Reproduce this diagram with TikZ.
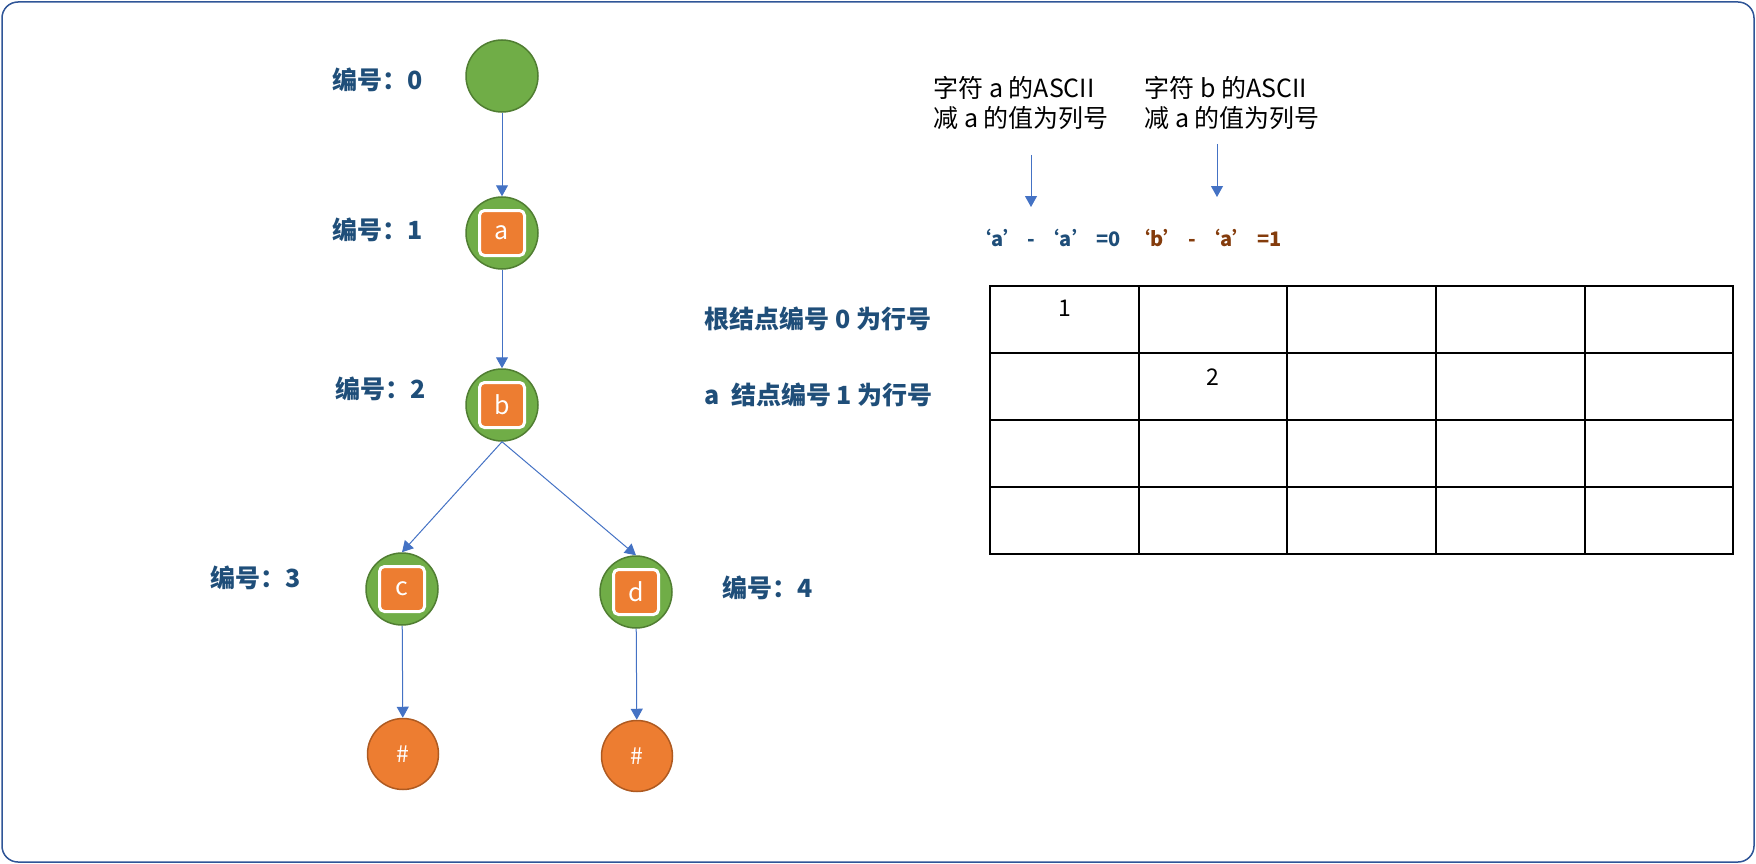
\documentclass[tikz,border=0pt]{standalone}
\usepackage{fontspec}
\setmainfont{Noto Sans CJK SC}
\newfontfamily\cjk{Noto Sans CJK SC}
\usetikzlibrary{arrows.meta}
\definecolor{gfill}{HTML}{70AD47}
\definecolor{gline}{HTML}{507E32}
\definecolor{ofill}{HTML}{ED7D31}
\definecolor{oline}{HTML}{AE5A21}
\definecolor{arr}{HTML}{4472C4}
\definecolor{lblue}{HTML}{1F4E79}
\definecolor{brown}{HTML}{843C0C}
\definecolor{frame}{HTML}{2F5597}
\tikzset{
  gnode/.style={circle,fill=gfill,draw=gline,line width=1.5pt,minimum size=72pt,inner sep=0pt},
  hnode/.style={circle,fill=ofill,draw=oline,line width=1.5pt,minimum size=71pt,inner sep=0pt,text=white,font=\fontsize{23}{24}\selectfont},
  sq/.style={rectangle,rounded corners=5pt,fill=ofill,draw=white,line width=3pt,minimum size=45pt,inner sep=0pt,text=white,font=\fontsize{25}{26}\selectfont},
  lbl/.style={text=lblue,font=\fontsize{25}{28}\selectfont\bfseries},
  note/.style={text=black,align=left,font=\fontsize{25}{30}\selectfont},
  conn/.style={draw=arr,line width=1pt,-{Triangle[width=12pt,length=11pt]}},
  cellnum/.style={font=\fontsize{23}{24}\selectfont}
}
\begin{document}
\begin{tikzpicture}[x=1pt,y=-1pt]
\useasboundingbox (0,0) rectangle (1756,864);
\draw[frame,line width=1.5pt,rounded corners=16pt] (2,2) rectangle (1754,862);
% tree nodes
\node[gnode] (r) at (502,76) {};
\node[gnode] (a) at (502,233) {};
\node[sq] (as) at (a) {a};
\node[gnode] (b) at (502,405) {};
\node[sq] (bs) at (b) {b};
\node[gnode] (c) at (402,589) {};
\node[sq] (cs) at (c) {c};
\node[gnode] (d) at (636,592) {};
\node[sq] (ds) at (d) {d};
\node[hnode] (h1) at (403,754) {\#};
\node[hnode] (h2) at (637,756) {\#};
% connectors
\draw[conn] (r) -- (a);
\draw[conn] (a) -- (b);
\draw[conn] (b.south) -- (c.north);
\draw[conn] (b.south) -- (d.north);
\draw[conn] (c) -- (h1);
\draw[conn] (d) -- (h2);
% labels
\node[lbl] (l0) at (378,80) {编号：0};
\node[lbl] (l1) at (378,230) {编号：1};
\node[lbl] (l2) at (381,389) {编号：2};
\node[lbl] (l3) at (256,578) {编号：3};
\node[lbl] (l4) at (768,588) {编号：4};
\node[lbl,anchor=west] (t0) at (701,319) {根结点编号 0 为行号};
\node[lbl,anchor=west] (t1) at (701,395) {a\ \ 结点编号 1 为行号};
% notes
\node[note,anchor=west] (n1) at (930,103) {字符 a 的ASCII\\减 a 的值为列号};
\node[note,anchor=west] (n2) at (1141,103) {字符 b 的ASCII\\减 a 的值为列号};
\node[text=lblue,font=\fontsize{20}{22}\selectfont\bfseries] (e1) at (1046,238) {‘a’ - ‘a’ =0};
\node[text=brown,font=\fontsize{20}{22}\selectfont\bfseries] (e2) at (1206,238) {‘b’ - ‘a’ =1};
\coordinate (s1) at (1031,155);
\coordinate (s2) at (1217,144);
\draw[conn] (s1) -- (1031,207);
\draw[conn] (s2) -- (1217,197);
% table
\draw[black,line width=1.5pt] (990,286) rectangle (1733,554);
\foreach \x in {1139,1287,1436,1585} \draw[black,line width=1.5pt] (\x,286) -- (\x,554);
\foreach \y in {353,420,487} \draw[black,line width=1.5pt] (990,\y) -- (1733,\y);
\node[cellnum] (c00) at (1065,308) {1};
\node[cellnum] (c11) at (1213,377) {2};
\end{tikzpicture}
\end{document}
